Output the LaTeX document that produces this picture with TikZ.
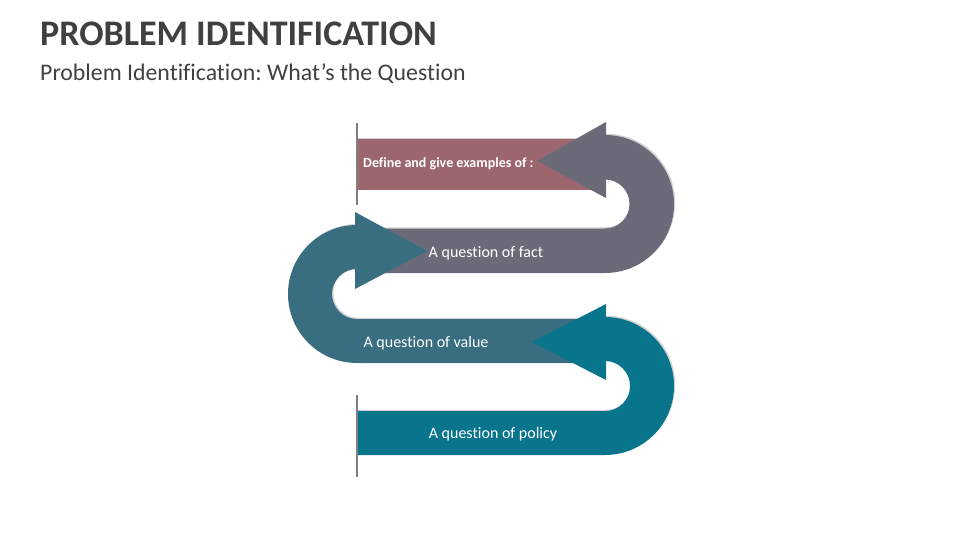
\documentclass[tikz,border=0pt]{standalone}
\usepackage{fontspec}
\setmainfont{Carlito}[Ligatures=NoCommon]
\frenchspacing
\usetikzlibrary{shadows}
\definecolor{titlegray}{HTML}{404040}
\definecolor{cMaroon}{HTML}{9C666E}
\definecolor{cGrey}{HTML}{6A6A79}
\definecolor{cTeal}{HTML}{386E80}
\definecolor{cDeep}{HTML}{08758C}
\definecolor{cLine}{HTML}{808080}
\tikzset{
  band/.style={drop shadow={shadow xshift=1.2pt,shadow yshift=1.2pt,opacity=0.18,fill=black}},
  lbl/.style={text=white,font=\fontsize{16}{18}\selectfont},
  sideline/.style={draw=cLine,line width=2pt}
}
\begin{document}
\begin{tikzpicture}[x=1pt,y=1pt,yscale=-1]
\useasboundingbox (0,0) rectangle (960,540);
\node[anchor=base west,inner sep=0pt,text=titlegray,font=\fontsize{36}{40}\selectfont\bfseries] (title) at (40,46) {PROBLEM IDENTIFICATION};
\node[anchor=base west,inner sep=0pt,text=titlegray,font=\fontsize{23.8}{27}\selectfont] (sub) at (40,81) {Problem Identification: What’s the Question};
% maroon bar
\fill[cMaroon,band] (357,139) rectangle (600,190);
% grey U
\fill[cGrey,band] (370,228.5) -- (605,228.5) arc[start angle=90,end angle=-90,radius=24.5pt] -- (605,135) arc[start angle=-90,end angle=90,radius=69pt] -- (370,273) -- cycle;
\fill[cGrey] (606,122) -- (606,198) -- (537,161) -- cycle;
% teal U
\fill[cTeal,band] (357,269) arc[start angle=-90,end angle=-270,radius=25pt] -- (598,319) -- (598,363) -- (357,363) arc[start angle=90,end angle=270,radius=69pt] -- cycle;
\fill[cTeal] (355,212) -- (355,289) -- (427,251) -- cycle;
% deep teal U
\fill[cDeep,band] (357,411) -- (605,411) arc[start angle=90,end angle=-90,radius=25pt] -- (605,317) arc[start angle=-90,end angle=90,radius=69pt] -- (357,455) -- cycle;
\fill[cDeep] (606,304) -- (606,380) -- (532,342) -- cycle;
% side lines
\draw[sideline] (356.5,123) coordinate (t1) -- (356.5,205) coordinate (t2);
\draw[sideline] (356.5,395) coordinate (b1) -- (356.5,477) coordinate (b2);
% labels
\node[anchor=west,inner sep=0pt,text=white,font=\fontsize{14}{16}\selectfont\bfseries] (def) at (363,164) {Define and give examples of :};
\node[lbl] (fact) at (486,253) {A question of fact};
\node[lbl] (value) at (426,343) {A question of value};
\node[lbl] (policy) at (493,434) {A question of policy};
\end{tikzpicture}
\end{document}
